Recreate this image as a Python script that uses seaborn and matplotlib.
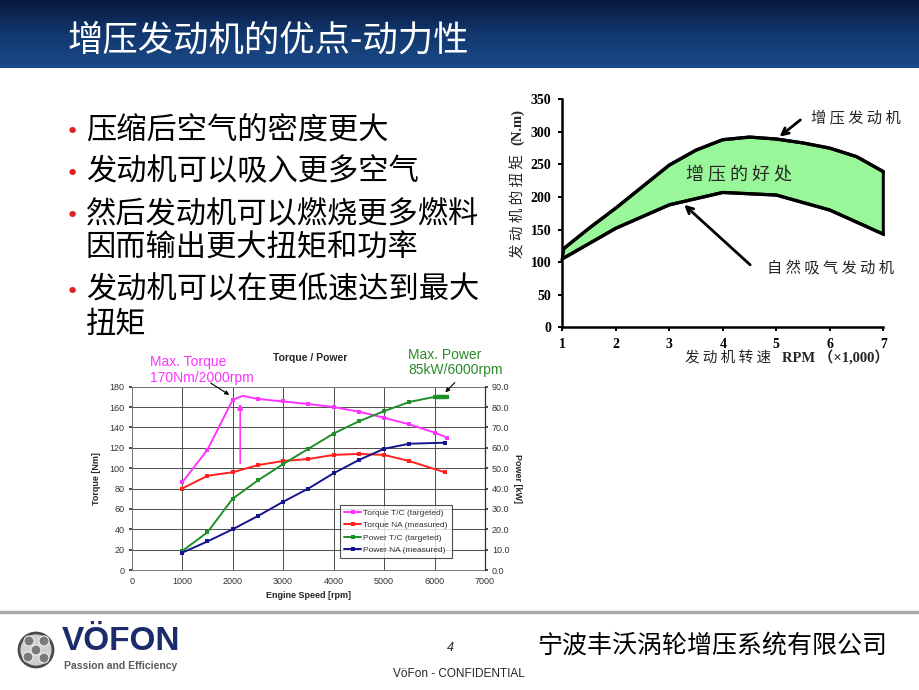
import numpy as np
import matplotlib
matplotlib.use("Agg")
import matplotlib.pyplot as plt
import seaborn as sns
from matplotlib.patches import Circle
from matplotlib.colors import LinearSegmentedColormap

# top right sketch: engine speed (x1000 rpm) vs torque (N.m)
turbo_rpm = [1.03, 1.5, 2, 2.5, 3, 3.5, 4, 4.5, 5, 5.5, 6, 6.5, 7]
turbo_torque = [121, 152, 183, 216, 249, 272, 288, 292, 289, 283, 275, 262, 239]
na_rpm = [1, 2, 3, 4, 5, 6, 7]
na_torque = [105, 152, 188, 207, 203, 180, 143]
sketch_xticks = [1, 2, 3, 4, 5, 6, 7]
sketch_yticks = [0, 50, 100, 150, 200, 250, 300, 350]

# bottom left test chart: torque [Nm] and power [kW] vs engine speed [rpm]
tc_rpm = [1000, 1500, 2000, 2200, 2500, 3000, 3500, 4000, 4500, 5000, 5500, 6000, 6250]
tc_torque = [86, 118, 167, 171, 168, 165.5, 163, 160, 155.5, 149.5, 143, 135, 130]
na_test_rpm = [1000, 1500, 2000, 2500, 3000, 3500, 4000, 4500, 5000, 5500, 6200]
na_test_torque = [80, 92.5, 96, 103, 107, 109, 113, 114, 113, 107, 96]
tc_power_rpm = [1000, 1500, 2000, 2500, 3000, 3500, 4000, 4500, 5000, 5500, 6000, 6250]
tc_power = [9.3, 18.5, 35, 44, 52, 59.5, 67, 73, 78, 82.5, 85, 85]
na_power_rpm = [1000, 1500, 2000, 2500, 3000, 3500, 4000, 4500, 5000, 5500, 6200]
na_power = [8.5, 14, 20, 26.5, 33.5, 40, 47.5, 54, 59.5, 62, 62.5]
series_labels = ["Torque T/C (targeted)", "Torque NA (measured)",
                 "Power T/C (targeted)", "Power NA (measured)"]

bullets = [
    ["压缩后空气的密度更大"],
    ["发动机可以吸入更多空气"],
    ["然后发动机可以燃烧更多燃料", "因而输出更大扭矩和功率"],
    ["发动机可以在更低速达到最大", "扭矩"],
]

MAG = "#ff33ff"
RED = "#ff2020"
GRN = "#1f8f2a"
NAVY = "#14148c"
SANS = ["Liberation Sans", "DejaVu Sans"]
SERIF = ["Liberation Serif", "Noto Sans CJK SC"]

sns.set_theme(style="white")
plt.rcParams["font.family"] = ["Noto Sans CJK SC", "DejaVu Sans"]

fig = plt.figure(figsize=(9.2, 6.9), dpi=100)
W, H = 920, 690

# background layer in pixel coordinates
bg = fig.add_axes([0, 0, 1, 1], zorder=0)
grad = np.linspace(0, 1, 68)[:, None]
bar_cmap = LinearSegmentedColormap.from_list("bar", ["#08193d", "#12386f", "#1b4a88"])
bg.imshow(grad, cmap=bar_cmap, extent=[0, W, 68, 0], aspect="auto")
bg.set_xlim(0, W)
bg.set_ylim(H, 0)
bg.axis("off")

bg.text(68, 41, "增压发动机的优点-动力性", color="white", fontsize=25.5, va="center")

# bullet list
y = 130
for item in bullets:
    bg.text(72, y + 2, "•", color="#e02020", fontsize=16, ha="center", va="center",
            family=["DejaVu Sans"])
    for k, line in enumerate(item):
        bg.text(86, y, line, fontsize=21.8, va="center", color="black")
        y += 34 if k < len(item) - 1 else 0
    y += 42

# footer
bg.plot([0, W], [612, 612], color="#a9a9a9", lw=2.5)
bg.add_patch(Circle((36, 650), 17, facecolor="#cfcfcf", edgecolor="#4a4a4a", lw=2))
for cx, cy, r in [(36, 650, 5), (29, 641, 5), (44, 641, 5), (28, 657, 5), (44, 658, 5)]:
    bg.add_patch(Circle((cx, cy), r, facecolor="#7a7a7a", edgecolor="#eeeeee", lw=0.8))
bg.text(62, 642, "VÖFON", fontsize=24, fontweight="bold", color="#1b2b6b",
        va="center", family=SANS)
bg.text(64, 666, "Passion and Efficiency", fontsize=7.5, fontweight="bold",
        color="#5a5a5a", va="center", family=SANS)
bg.text(447, 648, "4", fontsize=9, style="italic", va="center", family=SANS)
bg.text(459, 674, "VöFon - CONFIDENTIAL", fontsize=8.5, ha="center", va="center",
        family=SANS)
bg.text(537, 646, "宁波丰沃涡轮增压系统有限公司", fontsize=18, va="center", color="black")

# ---- bottom left: torque / power chart
ax = fig.add_axes([131.7 / W, 120 / H, 353.3 / W, 183.3 / H], zorder=2)
sns.lineplot(x=tc_rpm, y=tc_torque, ax=ax, color=MAG, lw=1.4, marker="s",
             markersize=3.2, markeredgewidth=0, markevery=[0, 1, 2, 4, 5, 6, 7, 8, 9, 10, 11, 12],
             label=series_labels[0])
sns.lineplot(x=na_test_rpm, y=na_test_torque, ax=ax, color=RED, lw=1.4, marker="s",
             markersize=3.2, markeredgewidth=0, label=series_labels[1])
ax.set_xlim(0, 7000)
ax.set_ylim(0, 180)
ax.set_xticks(range(0, 7001, 1000))
ax.set_yticks(range(0, 181, 20))
ax.grid(True, color="#4d4d4d", lw=0.7)
for s in ax.spines.values():
    s.set_color("#777777")
    s.set_linewidth(0.7)
ax.tick_params(labelsize=6.5, colors="#333333", length=2, pad=3, left=True, bottom=False)
for lab in ax.get_xticklabels() + ax.get_yticklabels():
    lab.set_family(SANS)
ax.set_xlabel("Engine Speed [rpm]", fontsize=6.5, fontweight="bold", family=SANS, labelpad=4)
ax.set_ylabel("Torque [Nm]", fontsize=6.5, fontweight="bold", family=SANS, labelpad=6)

ax2 = ax.twinx()
sns.lineplot(x=tc_power_rpm, y=tc_power, ax=ax2, color=GRN, lw=1.4, marker="s",
             markersize=3, markeredgewidth=0, label=series_labels[2])
sns.lineplot(x=tc_power_rpm[-2:], y=tc_power[-2:], ax=ax2, color=GRN, lw=3.2, legend=False)
sns.lineplot(x=na_power_rpm, y=na_power, ax=ax2, color=NAVY, lw=1.4, marker="s",
             markersize=3, markeredgewidth=0, label=series_labels[3])
ax2.set_ylim(0, 90)
ax2.set_yticks(range(0, 91, 10))
ax2.set_yticklabels([f"{v:.1f}" for v in range(0, 91, 10)])
ax2.tick_params(labelsize=6.5, colors="#333333", length=2, pad=3, right=True)
for lab in ax2.get_yticklabels():
    lab.set_family(SANS)
for side, s in ax2.spines.items():
    s.set_visible(side == "right")
ax2.spines["right"].set_color("#333333")
ax2.spines["right"].set_linewidth(0.9)
ax2.set_ylabel("Power [kW]", fontsize=6.5, fontweight="bold", family=SANS,
               rotation=-90, labelpad=9)
ax2.grid(False)

h1, l1 = ax.get_legend_handles_labels()
h2, l2 = ax2.get_legend_handles_labels()
if ax.get_legend():
    ax.get_legend().remove()
leg = ax2.legend(h1 + h2, l1 + l2, loc="lower left", bbox_to_anchor=(0.59, 0.065),
                 borderaxespad=0, frameon=True, fancybox=False,
                 handlelength=2.0, labelspacing=0.55, borderpad=0.5, handletextpad=0.25,
                 prop={"family": SANS, "size": 6})
leg.get_frame().set_edgecolor("#222222")
leg.get_frame().set_linewidth(0.8)
for t in leg.get_texts():
    t.set_color("#333333")

ax.annotate("", xy=(2150, 166), xytext=(2150, 102),
            arrowprops=dict(arrowstyle="-|>", color=MAG, lw=1.2, mutation_scale=8))
ax.annotate("", xy=(1981, 170.5), xytext=(1519, 185),
            arrowprops=dict(arrowstyle="-|>", color="black", lw=0.8, mutation_scale=6),
            annotation_clip=False)
ax.annotate("", xy=(6175, 172.5), xytext=(6440, 186),
            arrowprops=dict(arrowstyle="-|>", color="black", lw=0.8, mutation_scale=6),
            annotation_clip=False)

bg.text(310, 358, "Torque / Power", fontsize=7.5, fontweight="bold", ha="center",
        va="center", family=SANS)
bg.text(150, 362, "Max. Torque", fontsize=10, color=MAG, va="center", family=SANS)
bg.text(150, 378, "170Nm/2000rpm", fontsize=10, color=MAG, va="center", family=SANS)
bg.text(408, 355, "Max. Power", fontsize=10, color="#2a8a2a", va="center", family=SANS)
bg.text(408, 370, "85kW/6000rpm", fontsize=10, color="#2a8a2a", va="center", family=SANS)

# ---- top right: turbo benefit sketch
ax3 = fig.add_axes([562.3 / W, (H - 327.3) / H, 321 / W, 228 / H], zorder=2)
ax3.fill(np.r_[turbo_rpm, na_rpm[::-1]], np.r_[turbo_torque, na_torque[::-1]],
         facecolor="#99f799", edgecolor="black", lw=2.2, clip_on=False)
sns.lineplot(x=turbo_rpm, y=turbo_torque, ax=ax3, color="black", lw=2.4, clip_on=False)
sns.lineplot(x=na_rpm, y=na_torque, ax=ax3, color="black", lw=2.4, clip_on=False)
ax3.set_xlim(1, 7)
ax3.set_ylim(0, 350)
ax3.set_xticks(sketch_xticks)
ax3.set_yticks(sketch_yticks)
ax3.set_facecolor("none")
for side, s in ax3.spines.items():
    s.set_visible(side in ("left", "bottom"))
    s.set_color("black")
    s.set_linewidth(1.8)
ax3.tick_params(direction="out", length=3, width=1.4, labelsize=10, pad=5,
                left=True, bottom=True, colors="black")
for lab in ax3.get_xticklabels() + ax3.get_yticklabels():
    lab.set_family(["Liberation Serif"])
    lab.set_fontweight("bold")
ax3.set_xlabel("")
ax3.set_ylabel("")

ax3.annotate("", xy=(5.02, 290), xytext=(5.49, 321),
             arrowprops=dict(arrowstyle="->", color="black", lw=2, mutation_scale=12),
             annotation_clip=False)
ax3.annotate("", xy=(3.24, 191), xytext=(4.55, 93),
             arrowprops=dict(arrowstyle="->", color="black", lw=2, mutation_scale=12),
             annotation_clip=False)
ax3.text(5.65, 321, "增 压 发 动 机", fontsize=11, va="center")
ax3.text(4.31, 234, "增 压 的 好 处", fontsize=13, ha="center", va="center")
ax3.text(4.83, 91, "自 然 吸 气 发 动 机", fontsize=11, va="center")

# axis titles of the sketch: CJK part regular, latin part bold serif
bg.text(518, 258, "发 动 机 的 扭 矩", rotation=90, rotation_mode="anchor",
        fontsize=10.5, ha="left", va="center")
bg.text(518, 145, "(N.m)", rotation=90, rotation_mode="anchor", fontsize=10.5,
        fontweight="bold", ha="left", va="center", family=SERIF)
bg.text(685, 358, "发 动 机 转 速", fontsize=10.5, ha="left", va="center")
bg.text(782, 358, "RPM （×1,000）", fontsize=10.5, fontweight="bold",
        ha="left", va="center", family=SERIF)

fig.savefig("out.png", dpi=100)
